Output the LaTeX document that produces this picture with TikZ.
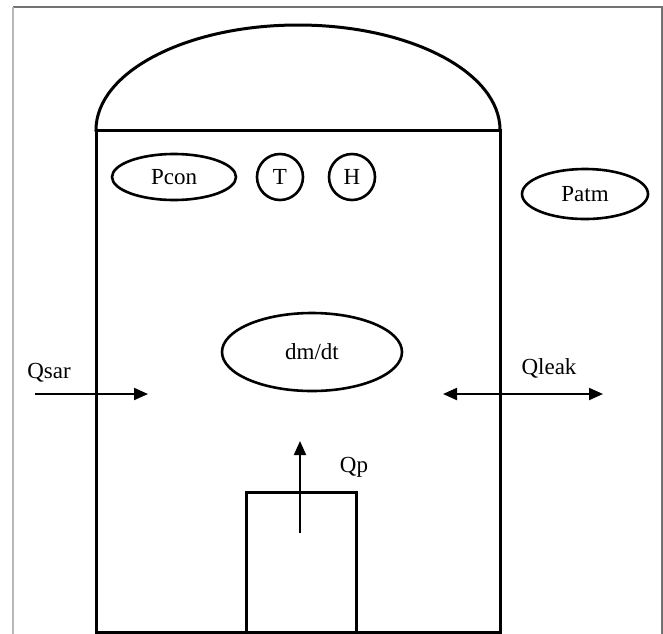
\documentclass[tikz,border=0pt]{standalone}
\usepackage{fontspec}
\setmainfont{Liberation Serif}
\usetikzlibrary{shapes.geometric,arrows.meta}
\begin{document}
\begin{tikzpicture}[x=1pt,y=-1pt,
  wall/.style={line width=3pt,line cap=rect},
  oval/.style={ellipse,draw,line width=2.6pt,inner sep=0pt,font=\fontsize{23}{27}\selectfont},
  ring/.style={circle,draw,line width=2.6pt,inner sep=0pt,minimum size=46pt,font=\fontsize{23}{27}\selectfont},
  lbl/.style={inner sep=0pt,font=\fontsize{23}{27}\selectfont},
  flow/.style={line width=2pt,-{Triangle[length=14pt,width=12pt]}},
  flow2/.style={line width=2pt,{Triangle[length=14pt,width=12pt]}-{Triangle[length=14pt,width=12pt]}}]
\useasboundingbox (0,0) rectangle (663,633);
\fill[white] (0,0) rectangle (663,633);
% outer frame
\draw[line width=1.5pt,color=black!55] (13,7) -- (662,7) -- (662,640);
\draw[line width=1.5pt,color=black!28] (13,7) -- (13,640);
% vessel
\draw[wall] (96,130) arc[start angle=180,end angle=0,x radius=202pt,y radius=105pt];
\draw[wall] (96,130) -- (500,130);
\draw[wall] (96,130) -- (96,632) -- (500,632) -- (500,130);
% pump box
\draw[wall] (246,640) -- (246,492) -- (356,492) -- (356,640);
% nodes
\node[oval,minimum width=124pt,minimum height=46pt] (pcon) at (174,177) {Pcon};
\node[ring] (T) at (280,177) {T};
\node[ring] (H) at (352,177) {H};
\node[oval,minimum width=126pt,minimum height=50pt] (patm) at (585,194) {Patm};
\node[oval,minimum width=180pt,minimum height=78pt] (dmdt) at (312,352) {dm/dt};
\node[lbl] (qsar) at (49,373) {Qsar};
\node[lbl] (qleak) at (549,368) {Qleak};
\node[lbl] (qp) at (354,467) {Qp};
% connectors
\coordinate (sarA) at (35,394);
\coordinate (sarB) at (148,394);
\coordinate (leakA) at (443,394);
\coordinate (leakB) at (603,394);
\coordinate (pA) at (300,533);
\coordinate (pB) at (300,441);
\draw[flow] (sarA) -- (sarB);
\draw[flow2] (leakA) -- (leakB);
\draw[flow] (pA) -- (pB);
\end{tikzpicture}
\end{document}
